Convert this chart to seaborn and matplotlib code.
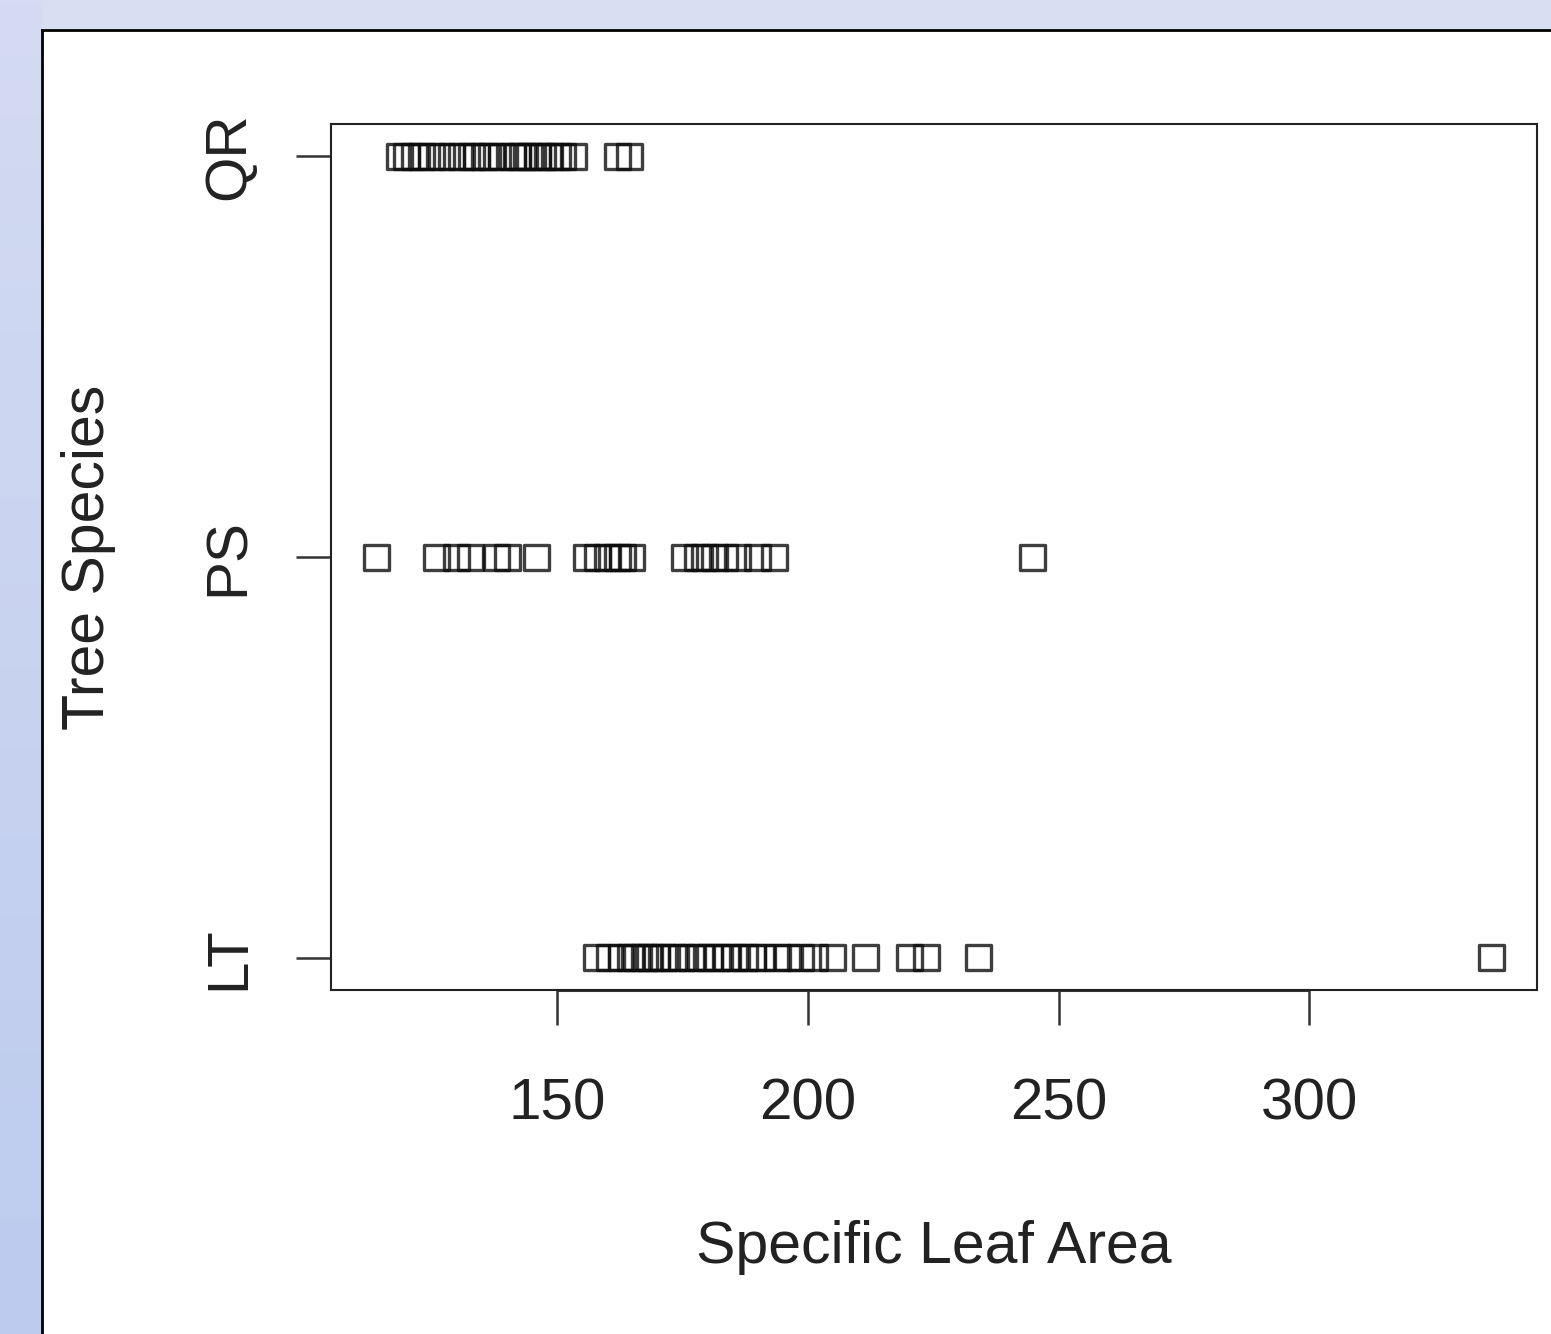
import numpy as np
import pandas as pd
import seaborn as sns
import matplotlib.pyplot as plt
from matplotlib.colors import LinearSegmentedColormap

# specific leaf area values
qr_sla = [118.5, 120, 121.5, 123, 125, 127, 129, 131, 133, 134, 135.5, 137, 139,
          141, 142, 143, 144.5, 146, 147, 148.5, 150, 151, 153.2, 162, 164.5]
ps_sla = [113.9, 126, 130, 132.8, 138, 140, 145.8,
          155.8, 158, 160, 162, 163, 164.8,
          175.3, 177.9, 179.3, 181.3, 183.3, 186, 189.9, 193.3, 244.7]
lt_sla = [157.8, 160.4, 162.8, 164.6, 165.8, 167.4, 168.5, 169.9, 171.3, 173.3,
          174.7, 176.7, 178.5, 180.3, 181.9, 183.7, 185.3, 187.3, 188.9, 190.7,
          193.9, 195.9, 198.5, 201.3, 205, 211.4, 220.2, 223.6, 234, 336.4]
species = ["QR", "PS", "LT"]
x_ticks = [150, 200, 250, 300]

df = pd.DataFrame({
    "sla": qr_sla + ps_sla + lt_sla,
    "species": ["QR"] * len(qr_sla) + ["PS"] * len(ps_sla) + ["LT"] * len(lt_sla),
})

sns.set_style("white")
plt.rcParams["font.family"] = ["Liberation Sans", "DejaVu Sans"]

fig = plt.figure(figsize=(15.51, 13.34), dpi=100)
fig.patch.set_facecolor("#d8def2")

# left gradient strip of the slide background
bg = fig.add_axes([0, 0, 42 / 1551, 1], zorder=-20)
grad = np.linspace(0, 1, 256).reshape(-1, 1)
bg.imshow(grad, aspect="auto", cmap=LinearSegmentedColormap.from_list(
    "bgc", ["#d4dbf2", "#bccbee"]), extent=[0, 1, 0, 1], origin="upper")
bg.axis("off")

# white panel with black frame
panel = fig.add_axes([42 / 1551, -0.01, 1.0, 1 - 30 / 1334 + 0.01], zorder=-10)
panel.set_facecolor("white")
panel.set_xticks([])
panel.set_yticks([])
for s in panel.spines.values():
    s.set_visible(True)
    s.set_linewidth(2)
    s.set_color("black")

ax = fig.add_axes([331 / 1551, 1 - 990 / 1334, (1537 - 331) / 1551, (990 - 124) / 1334])
ax.set_facecolor("white")

sns.stripplot(data=df, x="sla", y="species", order=species, orient="h",
              jitter=False, marker="s", size=18, color="black",
              linewidth=2.4, edgecolor="black", ax=ax)
for coll in ax.collections:
    coll.set_facecolor("none")
    coll.set_edgecolor((0.05, 0.05, 0.05, 0.8))

ax.set_xlim(104.9, 345.4)
ax.set_ylim(2.08, -0.08)
ax.set_xticks(x_ticks)
ax.set_yticks(range(len(species)))
ax.set_yticklabels(species, rotation=90, va="center")

for s in ax.spines.values():
    s.set_visible(True)
    s.set_linewidth(1.5)
    s.set_color("#222222")

ax.tick_params(axis="both", which="both", direction="out", length=25, width=1.8,
               color="#333333", labelsize=42, labelcolor="#222222")
ax.tick_params(axis="x", pad=38, bottom=True)
ax.tick_params(axis="y", pad=29, left=True)

# R-style axis line from first to last tick
ax.plot([x_ticks[0], x_ticks[-1]], [0, 0], transform=ax.get_xaxis_transform(),
        color="#333333", linewidth=2.2, clip_on=False, solid_capstyle="butt")

ax.set_xlabel("Specific Leaf Area", fontsize=42.5, labelpad=64, color="#222222")
ax.set_ylabel("Tree Species", fontsize=42.5, labelpad=62, color="#222222")

fig.savefig("out.png", dpi=100, facecolor=fig.get_facecolor())
